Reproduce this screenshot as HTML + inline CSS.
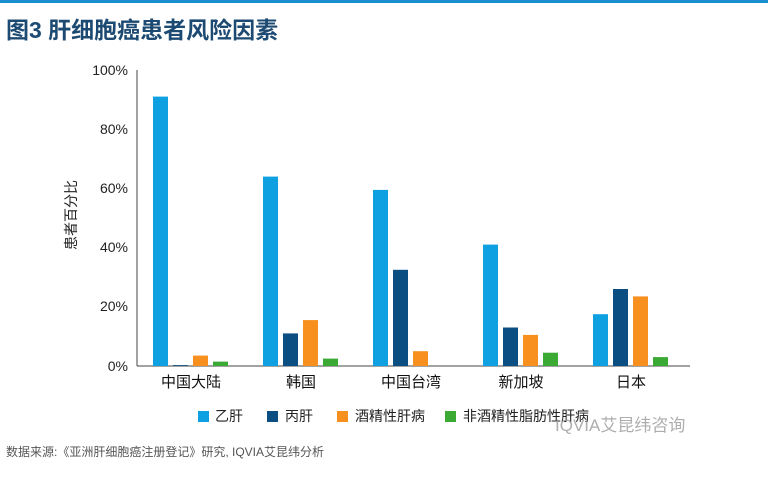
<!DOCTYPE html><html><head><meta charset="utf-8"><style>
body{margin:0;width:768px;height:476px;background:#fff;overflow:hidden;font-family:"Liberation Sans","Noto Sans CJK SC",sans-serif;}
</style></head><body>
<svg width="768" height="476" xmlns="http://www.w3.org/2000/svg" font-family="Liberation Sans, Noto Sans CJK SC, sans-serif">
<rect x="0" y="0" width="768" height="3" fill="#1a8fd0"/>
<text x="6" y="38" font-size="23" font-weight="bold" fill="#1d4a72">图3 肝细胞癌患者风险因素</text>
<g font-size="14" fill="#222" text-anchor="end">
<text x="128" y="75">100%</text><text x="128" y="134">80%</text><text x="128" y="193">60%</text><text x="128" y="252">40%</text><text x="128" y="311">20%</text><text x="128" y="371">0%</text>
</g>
<line x1="137" y1="70" x2="137" y2="366" stroke="#444" stroke-width="1"/>
<line x1="137" y1="366" x2="690" y2="366" stroke="#444" stroke-width="1"/>
<text transform="translate(76,215) rotate(-90)" font-size="14" fill="#222" text-anchor="middle">患者百分比</text>
<g fill="#0ea0e0">
<rect x="153" y="96.6" width="15" height="269.4"/><rect x="263" y="176.6" width="15" height="189.4"/><rect x="373" y="189.9" width="15" height="176.1"/><rect x="483" y="244.6" width="15" height="121.4"/><rect x="593" y="314.2" width="15" height="51.8"/>
</g>
<g fill="#0b4f82">
<rect x="173" y="365.1" width="15" height="0.9"/><rect x="283" y="333.4" width="15" height="32.6"/><rect x="393" y="269.8" width="15" height="96.2"/><rect x="503" y="327.5" width="15" height="38.5"/><rect x="613" y="289" width="15" height="77"/>
</g>
<g fill="#f7901e">
<rect x="193" y="355.6" width="15" height="10.4"/><rect x="303" y="320.1" width="15" height="45.9"/><rect x="413" y="351.2" width="15" height="14.8"/><rect x="523" y="334.9" width="15" height="31.1"/><rect x="633" y="296.4" width="15" height="69.6"/>
</g>
<g fill="#3aaa35">
<rect x="213" y="361.6" width="15" height="4.4"/><rect x="323" y="358.6" width="15" height="7.4"/><rect x="543" y="352.7" width="15" height="13.3"/><rect x="653" y="357.1" width="15" height="8.9"/>
</g>
<g font-size="15" fill="#111" text-anchor="middle">
<text x="191" y="387">中国大陆</text><text x="301" y="387">韩国</text><text x="411" y="387">中国台湾</text><text x="521" y="387">新加坡</text><text x="631" y="387">日本</text>
</g>
<g font-size="14" fill="#222">
<rect x="198" y="411" width="11" height="11" fill="#0ea0e0"/><text x="215" y="421">乙肝</text>
<rect x="267" y="411" width="11" height="11" fill="#0b4f82"/><text x="285" y="421">丙肝</text>
<rect x="337" y="411" width="11" height="11" fill="#f7901e"/><text x="355" y="421">酒精性肝病</text>
<rect x="445" y="411" width="11" height="11" fill="#3aaa35"/><text x="463" y="421">非酒精性脂肪性肝病</text>
</g>
<text x="555" y="431" font-size="17" fill="#999" opacity="0.8">IQVIA艾昆纬咨询</text>
<text x="6" y="456" font-size="12" fill="#555">数据来源:《亚洲肝细胞癌注册登记》研究, IQVIA艾昆纬分析</text>
</svg></body></html>
